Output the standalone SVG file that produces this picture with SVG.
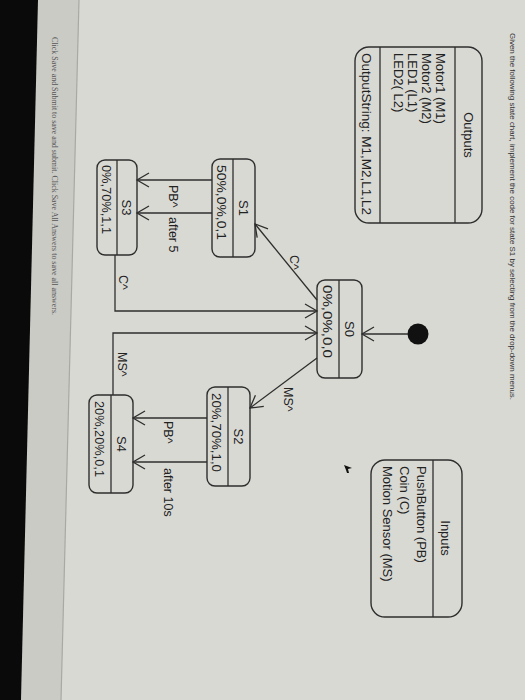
<svg xmlns="http://www.w3.org/2000/svg" width="525" height="700" viewBox="0 0 525 700">
<defs>
<style>
.box{fill:none;stroke:#2e2e2e;stroke-width:1.4}
.sep{stroke:#2e2e2e;stroke-width:1.3}
.t{font-family:"Liberation Sans",Arial,sans-serif;font-size:13px;fill:#222}
.lbl{font-family:"Liberation Sans",Arial,sans-serif;font-size:12.5px;fill:#222}
.mid{text-anchor:middle}
.edge{fill:none;stroke:#2e2e2e;stroke-width:1.3}
</style>
<marker id="open" viewBox="-14 -9 16 18" refX="0" refY="0" markerWidth="16" markerHeight="18" markerUnits="userSpaceOnUse" orient="auto">
<path d="M-12,-7 L0,0 L-12,7" fill="none" stroke="#2e2e2e" stroke-width="1.3"/>
</marker>
</defs>
<!-- photo background -->
<rect x="0" y="0" width="525" height="700" fill="#d9d9d4"/>
<polygon points="38,0 79,0 61,700 21,700" fill="#cbcbc6"/>
<line x1="79" y1="0" x2="61" y2="700" stroke="#a9a9a4" stroke-width="1.2"/>
<polygon points="0,0 38,0 21,700 0,700" fill="#0a0a0a"/>
<polygon points="344,465 352,468 348,469 349,473 347,473 346,470" fill="#111"/>
<g transform="translate(525,0) rotate(90)">
<text x="33" y="15" font-family="'Liberation Sans',Arial,sans-serif" font-size="8" fill="#333" textLength="367" lengthAdjust="spacingAndGlyphs">Given the following state chart, implement the code for state S1 by selecting from the drop-down menus.</text>
<text x="37" y="473" font-family="'Liberation Serif','Times New Roman',serif" font-size="7.5" fill="#555" textLength="278" lengthAdjust="spacingAndGlyphs">Click Save and Submit to save and submit. Click Save All Answers to save all answers.</text>

<g id="outputs">
<rect class="box" x="47" y="43" width="176" height="127" rx="14"/>
<line class="sep" x1="47" y1="70" x2="223" y2="70"/>
<line class="sep" x1="47" y1="145" x2="223" y2="145"/>
<text class="t mid" x="135" y="61">Outputs</text>
<text class="t" x="53" y="89">Motor1 (M1)</text>
<text class="t" x="53" y="103">Motor2 (M2)</text>
<text class="t" x="53" y="117">LED1 (L1)</text>
<text class="t" x="53" y="131">LED2( L2)</text>
<text class="t" x="53" y="163" textLength="162" lengthAdjust="spacingAndGlyphs">OutputString: M1,M2,L1,L2</text>
</g>

<g id="inputs">
<rect class="box" x="460" y="63" width="157" height="91" rx="14"/>
<line class="sep" x1="460" y1="92" x2="617" y2="92"/>
<text class="t mid" x="538" y="84">Inputs</text>
<text class="t" x="466" y="108">PushButton (PB)</text>
<text class="t" x="466" y="125">Coin (C)</text>
<text class="t" x="466" y="142">Motion Sensor (MS)</text>
</g>

<g id="init">
<circle cx="334" cy="107" r="10.5" fill="#111"/>
</g>

<g id="S0">
<rect class="box" x="280" y="163" width="98" height="45" rx="8"/>
<line class="sep" x1="280" y1="186" x2="378" y2="186"/>
<text class="t mid" x="329" y="180">S0</text>
<text class="t" x="285" y="202" textLength="73" lengthAdjust="spacingAndGlyphs">0%,0%,0,0</text>
</g>

<g id="S1">
<rect class="box" x="159" y="270" width="98" height="43" rx="8"/>
<line class="sep" x1="159" y1="292" x2="257" y2="292"/>
<text class="t mid" x="208" y="286">S1</text>
<text class="t" x="165" y="308" textLength="75" lengthAdjust="spacingAndGlyphs">50%,0%,0,1</text>
</g>

<g id="S3">
<rect class="box" x="160" y="388" width="95" height="40" rx="8"/>
<line class="sep" x1="160" y1="408" x2="255" y2="408"/>
<text class="t mid" x="207.5" y="403">S3</text>
<text class="t" x="165" y="423" textLength="69" lengthAdjust="spacingAndGlyphs">0%,70%,1,1</text>
</g>

<g id="S2">
<rect class="box" x="387" y="275" width="99" height="43" rx="8"/>
<line class="sep" x1="387" y1="297" x2="486" y2="297"/>
<text class="t mid" x="436.5" y="291">S2</text>
<text class="t" x="393" y="313" textLength="79" lengthAdjust="spacingAndGlyphs">20%,70%,1,0</text>
</g>

<g id="S4">
<rect class="box" x="395" y="392" width="98" height="44" rx="8"/>
<line class="sep" x1="395" y1="414" x2="493" y2="414"/>
<text class="t mid" x="444" y="408">S4</text>
<text class="t" x="401" y="430" textLength="76" lengthAdjust="spacingAndGlyphs">20%,20%,0,1</text>
</g>

<g id="connectors">
<line class="edge" x1="334" y1="117" x2="334" y2="163" marker-end="url(#open)"/>
<line class="edge" x1="300" y1="208" x2="224" y2="270" marker-end="url(#open)"/>
<text class="lbl" x="255" y="235">C^</text>
<line class="edge" x1="358" y1="208" x2="408" y2="275" marker-end="url(#open)"/>
<text class="lbl" x="387" y="241">MS^</text>
<line class="edge" x1="180" y1="313" x2="180" y2="388" marker-end="url(#open)"/>
<text class="lbl" x="185" y="356">PB^</text>
<line class="edge" x1="213" y1="313" x2="213" y2="388" marker-end="url(#open)"/>
<text class="lbl" x="217" y="356">after 5</text>
<line class="edge" x1="418" y1="318" x2="418" y2="392" marker-end="url(#open)"/>
<text class="lbl" x="421" y="361">PB^</text>
<line class="edge" x1="462" y1="318" x2="462" y2="392" marker-end="url(#open)"/>
<text class="lbl" x="468" y="361">after 10s</text>
<path class="edge" d="M255,410 H311 V208" marker-end="url(#open)"/>
<text class="lbl" x="275" y="406">C^</text>
<path class="edge" d="M395,412 H333 V208" marker-end="url(#open)"/>
<text class="lbl" x="352" y="407">MS^</text>
</g>
</g>
</svg>
